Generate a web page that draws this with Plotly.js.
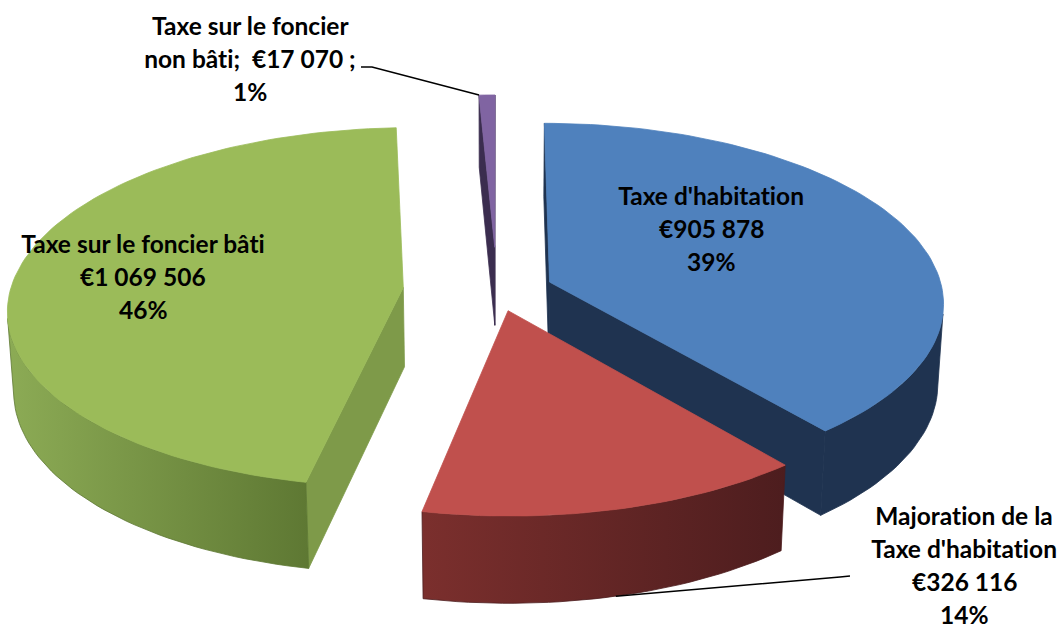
<!DOCTYPE html>
<html>
<head>
<meta charset="utf-8">
<script src="https://cdn.plot.ly/plotly-3.0.1.min.js"></script>
<style>
  html, body { margin: 0; padding: 0; background: #ffffff; }
  #chart { width: 1064px; height: 632px; }
  #chart text, #chart tspan { font-variant-ligatures: none !important; font-feature-settings: "liga" 0, "clig" 0, "dlig" 0 !important; }
</style>
</head>
<body>
<div id="chart"></div>
<script>
// ---------------- DATA ----------------
const categories = ["Taxe d'habitation", "Majoration de la Taxe d'habitation", "Taxe sur le foncier bâti", "Taxe sur le foncier non bâti"];
const values = [905878, 326116, 1069506, 17070];
const labelNameLines = [["Taxe d'habitation"], ["Majoration de la", "Taxe d'habitation"], ["Taxe sur le foncier bâti"], ["Taxe sur le foncier", "non bâti;"]];

// ---------------- STYLE ----------------
const topColors  = ["#4f81bd", "#c0504d", "#9bbb59", "#8064a2"];
const cutColors  = ["#1f3350", "#5a2221", "#7e9a49", "#3b2d4f"];
const wallLeft   = ["#1f3350", "#7b2f2d", "#8cab55", "#4a3862"];
const wallRight  = ["#1f3350", "#4d1d1e", "#5e7833", "#3b2d4f"];
const pulls      = [0.1428, 0.115, 0.2396, 0.25];
const labelPos   = [{x: 711, y: 195}, {x: 964, y: 515}, {x: 143, y: 243}, {x: 250, y: 25}];
const lineSteps  = [33.3, 33, 33.3, 33.3];

// projection parameters (pixel space)
const CX = 497, CY = 290.6, K = 393, D = 8.1, H = 0.23;
const ALPHA = Math.asin(0.453);
const sA = Math.sin(ALPHA), cA = Math.cos(ALPHA);
const CAM = [0, -D * cA, D * sA];

function proj(X, Y, Z) {
  const v = Y * sA + Z * cA;
  const w = Y * cA - Z * sA;
  const f = 1 + w / D;
  return [CX + K * X / f, CY - K * v / f];
}
const rad = a => a * Math.PI / 180;

const total = values.reduce((a, b) => a + b, 0);
let acc = 0;
const slices = values.map((v, i) => {
  const a0 = acc / total * 360;
  acc += v;
  const a1 = acc / total * 360;
  const mid = (a0 + a1) / 2;
  const ox = pulls[i] * Math.sin(rad(mid));
  const oy = pulls[i] * Math.cos(rad(mid));
  return {i, a0, a1, mid, ox, oy};
});

function poly(pts, color, extra) {
  const t = {
    type: 'scatter', mode: 'lines',
    x: pts.map(p => p[0]), y: pts.map(p => p[1]),
    fill: 'toself', fillcolor: color,
    line: {color: color, width: 0.8},
    hoverinfo: 'skip', showlegend: false
  };
  return Object.assign(t, extra || {});
}

const traces = [];
// painter's order: farthest slice first
const order = slices.slice().sort((a, b) => {
  const wa = (a.oy + 0.5 * Math.cos(rad(a.mid))) * cA;
  const wb = (b.oy + 0.5 * Math.cos(rad(b.mid))) * cA;
  return wb - wa;
});

order.forEach(s => {
  const i = s.i;
  const rim = (t, z) => proj(s.ox + Math.sin(rad(t)), s.oy + Math.cos(rad(t)), z);
  const apexTop = proj(s.ox, s.oy, 0);
  const apexBot = proj(s.ox, s.oy, -H);
  const n = Math.max(3, Math.ceil((s.a1 - s.a0) / 1.5));
  const angs = [];
  for (let j = 0; j <= n; j++) angs.push(s.a0 + (s.a1 - s.a0) * j / n);

  // cut faces
  const faceVisible = (nx, ny, t) => {
    const px = s.ox + 0.5 * Math.sin(rad(t)), py = s.oy + 0.5 * Math.cos(rad(t));
    return nx * (CAM[0] - px) + ny * (CAM[1] - py) > 0;
  };
  if (faceVisible(-Math.cos(rad(s.a0)), Math.sin(rad(s.a0)), s.a0)) {
    traces.push(poly([apexTop, rim(s.a0, 0), rim(s.a0, -H), apexBot, apexTop], cutColors[i]));
  }
  if (faceVisible(Math.cos(rad(s.a1)), -Math.sin(rad(s.a1)), s.a1)) {
    traces.push(poly([apexTop, rim(s.a1, 0), rim(s.a1, -H), apexBot, apexTop], cutColors[i]));
  }

  // outer wall (visible parts)
  const vis = angs.map(t => {
    const nx = Math.sin(rad(t)), ny = Math.cos(rad(t));
    const px = s.ox + nx, py = s.oy + ny;
    return nx * (CAM[0] - px) + ny * (CAM[1] - py) > 0;
  });
  let seg = [];
  const flush = () => {
    if (seg.length >= 2) {
      const pts = seg.map(t => rim(t, 0)).concat(seg.slice().reverse().map(t => rim(t, -H)));
      pts.push(pts[0]);
      const extra = (wallLeft[i] !== wallRight[i]) ? {
        fillgradient: {type: 'horizontal', colorscale: [[0, wallLeft[i]], [1, wallRight[i]]]},
        line: {color: wallRight[i], width: 0.8}
      } : {};
      traces.push(poly(pts, wallLeft[i], extra));
    }
    seg = [];
  };
  angs.forEach((t, j) => { if (vis[j]) seg.push(t); else flush(); });
  flush();

  // top face
  const topPts = [apexTop].concat(angs.map(t => rim(t, 0)));
  topPts.push(apexTop);
  traces.push(poly(topPts, topColors[i]));
});

// ---------------- LABELS ----------------
const fmt = v => '€' + String(v).replace(/\B(?=(\d{3})+(?!\d))/g, ' ');
const pct = v => Math.round(v / total * 100) + '%';
const annotations = [];
slices.forEach(s => {
  const i = s.i;
  let lines;
  if (i === 3) {
    lines = [labelNameLines[i][0], labelNameLines[i][1] + '  ' + fmt(values[i]) + ' ;', pct(values[i])];
  } else {
    lines = labelNameLines[i].concat([fmt(values[i]), pct(values[i])]);
  }
  lines.forEach((ln, j) => {
    annotations.push({
      x: labelPos[i].x, y: labelPos[i].y + j * lineSteps[i], xref: 'x', yref: 'y',
      text: ln, showarrow: false, xanchor: 'center', yanchor: 'middle',
      font: {family: 'Lato, "Open Sans", sans-serif', size: 24.5, color: '#000000', weight: 700}
    });
  });
});

// leader lines, anchored to computed slice points
const sp = slices[3];
const purpleTip = proj(sp.ox + Math.sin(rad(sp.a0)), sp.oy + Math.cos(rad(sp.a0)), 0);
const sr = slices[1];
const redTip = proj(sr.ox + Math.sin(rad(sr.mid)), sr.oy + Math.cos(rad(sr.mid)), -H);
const shapes = [
  {type: 'path', xref: 'x', yref: 'y',
   path: `M 361 67 L 372 67 L ${purpleTip[0].toFixed(1)} ${purpleTip[1].toFixed(1)}`,
   line: {color: '#000000', width: 1.5}},
  {type: 'path', xref: 'x', yref: 'y',
   path: `M ${redTip[0].toFixed(1)} ${redTip[1].toFixed(1)} L 840 577 L 850 576`,
   line: {color: '#000000', width: 1.5}}
];

const layout = {
  width: 1064, height: 632,
  margin: {l: 0, r: 0, t: 0, b: 0},
  paper_bgcolor: '#ffffff', plot_bgcolor: '#ffffff',
  xaxis: {range: [0, 1064], visible: false, fixedrange: true},
  yaxis: {range: [632, 0], visible: false, fixedrange: true},
  showlegend: false,
  annotations: annotations,
  shapes: shapes
};

Plotly.newPlot('chart', traces, layout, {staticPlot: true, displayModeBar: false});
</script>
</body>
</html>
